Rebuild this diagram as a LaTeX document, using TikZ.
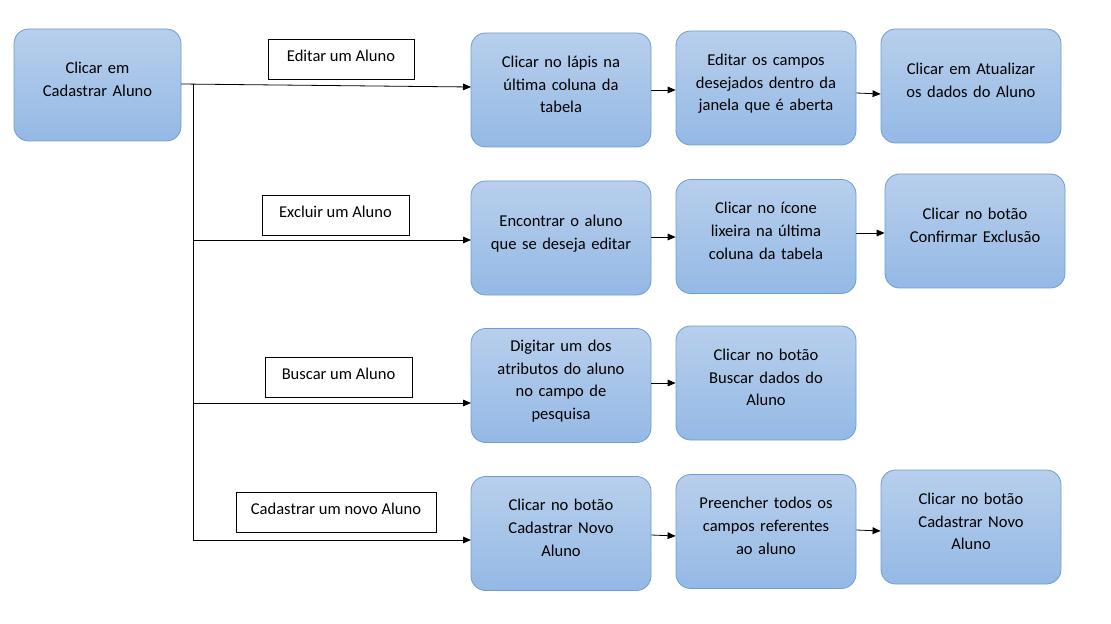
\documentclass[tikz,border=0pt]{standalone}
\usepackage{fontspec}
\setmainfont{Carlito}
\usetikzlibrary{arrows.meta}
\newcommand\mypadbot{\\[-8.5pt]\rule{0pt}{0pt}}
\begin{document}
\begin{tikzpicture}[x=0.75pt,y=-0.75pt,
  font=\fontsize{12.4pt}{17pt}\selectfont,
  blk/.style={draw={rgb,255:red,110;green,156;blue,214}, rounded corners=11pt,
    top color={rgb,255:red,184;green,207;blue,236}, bottom color={rgb,255:red,148;green,185;blue,229},
    minimum width=135pt, minimum height=85.5pt, align=center, text width=122pt, inner sep=0pt, line width=0.6pt,
    execute at end node=\mypadbot},
  lbl/.style={draw=black, fill=white, minimum height=30pt, inner sep=0pt, line width=0.6pt},
  conn/.style={draw=black, line width=0.6pt},
  arr/.style={conn, -{Triangle[length=6pt,width=5pt]}}
]
\useasboundingbox (0,0) rectangle (1111,624);

\node[blk, minimum width=125.25pt, minimum height=84pt, text width=118pt] (start) at (97.5,85) {Clicar em\\Cadastrar Aluno};

\node[blk] (a1) at (561,90) {Clicar no lápis na\\última coluna da\\tabela};
\node[blk] (a2) at (766,88) {Editar os campos\\desejados dentro da\\janela que é aberta};
\node[blk] (a3) at (971,86) {Clicar em Atualizar\\os dados do Aluno};

\node[blk] (b1) at (561,238) {Encontrar o aluno\\que se deseja editar};
\node[blk] (b2) at (766,236.5) {Clicar no ícone\\lixeira na última\\coluna da tabela};
\node[blk] (b3) at (975,231) {Clicar no botão\\Confirmar Exclusão};

\node[blk] (c1) at (561,385.5) {Digitar um dos\\atributos do aluno\\no campo de\\pesquisa};
\node[blk] (c2) at (766,383) {Clicar no botão\\Buscar dados do\\Aluno};

\node[blk] (d1) at (561,533.5) {Clicar no botão\\Cadastrar Novo\\Aluno};
\node[blk] (d2) at (766,531.5) {Preencher todos os\\campos referentes\\ao aluno};
\node[blk] (d3) at (971,527) {Clicar no botão\\Cadastrar Novo\\Aluno};

\node[lbl, minimum width=109.5pt] (la) at (341,59) {\raisebox{4.5pt}{Editar um Aluno}};
\node[lbl, minimum width=110.25pt] (lb) at (335.5,215) {\raisebox{4.5pt}{Excluir um Aluno}};
\node[lbl, minimum width=110.25pt] (lc) at (338.5,377) {\raisebox{4.5pt}{Buscar um Aluno}};
\node[lbl, minimum width=150pt] (ld) at (336,512) {\raisebox{4.5pt}{Cadastrar um novo Aluno}};

\coordinate (j0) at (193,84);
\coordinate (j1) at (193,240);
\coordinate (j2) at (193,403);
\coordinate (j3) at (193,540);
\coordinate (s0) at (181,84);
\coordinate (e0) at (471,87);
\coordinate (e1) at (471,240);
\coordinate (e2) at (471,403);
\coordinate (e3) at (471,540);

\draw[arr] (s0) -- (e0);
\draw[conn] (j0) -- (j3);
\draw[arr] (j1) -- (e1);
\draw[arr] (j2) -- (e2);
\draw[arr] (j3) -- (e3);

\draw[arr] (a1.east |- 0,90) -- (a2.west |- 0,90);
\draw[arr] (a2.east |- 0,93) -- (a3.west |- 0,94);
\draw[arr] (b1.east |- 0,237) -- (b2.west |- 0,237);
\draw[arr] (b2.east |- 0,233) -- (b3.west |- 0,233);
\draw[arr] (c1.east |- 0,383) -- (c2.west |- 0,383);
\draw[arr] (d1.east |- 0,535) -- (d2.west |- 0,536);
\draw[arr] (d2.east |- 0,530) -- (d3.west |- 0,531);
\end{tikzpicture}
\end{document}
